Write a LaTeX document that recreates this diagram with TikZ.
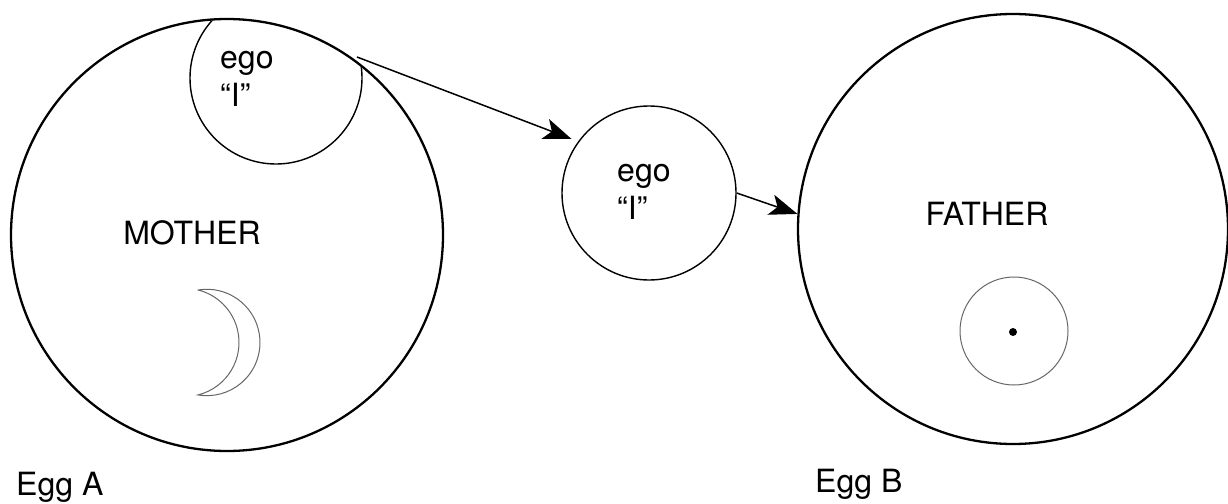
\documentclass[tikz,border=0pt]{standalone}
\usepackage{fontspec}
\setmainfont{TeX Gyre Heros}
\usetikzlibrary{arrows.meta}
\begin{document}
\begin{tikzpicture}[x=1pt,y=-1pt,
  egg/.style={circle,draw,line width=2.3pt,inner sep=0pt},
  egocirc/.style={circle,draw,line width=1.4pt,inner sep=0pt},
  thinline/.style={draw=black!60,line width=1pt},
  lbl/.style={inner sep=0pt,font=\fontsize{32}{38}\selectfont},
  conn/.style={line width=1.5pt,-{Stealth[length=28pt,width=21pt,inset=7pt]}}]
\useasboundingbox (0,0) rectangle (1228,503);
% Egg A
\node[egg,minimum size=432pt] (eggA) at (227,235) {};
\begin{scope}
  \clip (227,235) circle[radius=215];
  \draw[line width=1.4pt] (276,78) circle[radius=86];
\end{scope}
\coordinate (jA) at (357,57);
\node[lbl,anchor=base west,align=left] (egoA) at (220,106) {ego\\“I”};
\node[lbl] (mother) at (192,233) {MOTHER};
\draw[thinline] (198,290) arc[start angle=-99.5,end angle=99.5,radius=53.2]
  arc[start angle=76,end angle=-76,radius=54.1] -- cycle;
\node[lbl,anchor=base west] (eggAlabel) at (16,495) {Egg A};
% middle ego
\node[egocirc,minimum size=174pt] (ego2) at (649,193) {};
\node[lbl,anchor=base west,align=left] (ego2t) at (617,219) {ego\\“I”};
% Egg B
\node[egg,minimum size=430pt] (eggB) at (1013,229) {};
\node[lbl] (father) at (987,214) {FATHER};
\node[circle,thinline,minimum size=108pt,inner sep=0pt] (innerB) at (1014,331) {};
\node[circle,fill=black,minimum size=8pt,inner sep=0pt] (dotB) at (1013,332) {};
\node[lbl,anchor=base west] (eggBlabel) at (815,492) {Egg B};
% connectors
\draw[conn,shorten >=7pt] (jA) -- (ego2.144);
\draw[conn] (ego2.east) -- (eggB.176);
\end{tikzpicture}
\end{document}
